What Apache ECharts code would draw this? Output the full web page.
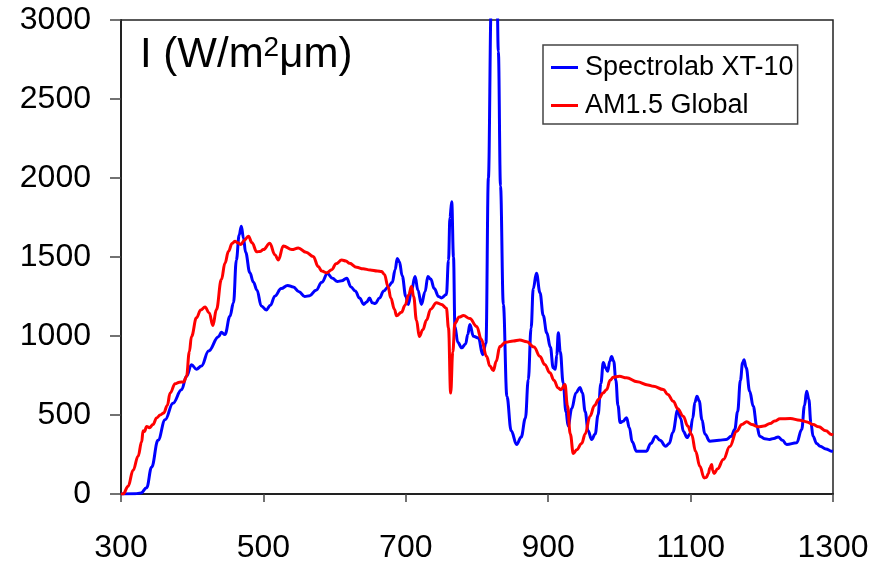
<!DOCTYPE html>
<html>
<head>
<meta charset="utf-8">
<script src="https://cdn.jsdelivr.net/npm/echarts@6/dist/echarts.min.js"></script>
<style>
html,body{margin:0;padding:0;background:#fff;}
#chart{width:884px;height:564px;}
</style>
</head>
<body>
<div id="chart"></div>
<script>
// Wavelength (nm) and irradiance (W/m^2 um)
const xtWavelength = [300,320,328,336,343,352,362,373,385,392,399,406,413,423,437,441,446,453,458,462,466,469,472,475,481,486,491,497,504,510,516,525,534,542,550,558,565,574,582,590,597,604,610,617,623,629,635,641,645,649,653,657,663,669,675,681,685,688,691,695,700,703.5,708,713,717,722,727,731,735,740,746,750,757,760,762,764.5,767,769,773,778.5,784,787,790,795,802,808,812.6,816,820,823,827,830,833,837,842,848,855.7,862,868,872,876,879,883.5,888.5,893,898,903,907,910,912,914.2,917,921,925,928,933,939,944.6,948,952,956,961,966,970,974,977.4,980.5,983.5,986.5,989,992,995,998,1001,1005,1010,1014,1018,1024,1038,1044,1051,1057,1065,1070,1075,1082,1086,1090,1095,1099,1103,1106,1109,1112,1116,1120,1127,1140,1150,1157,1162,1166,1170,1173,1175,1178,1183,1188,1193,1197,1204,1211,1217,1223,1229,1235,1249,1256,1260,1263,1266,1269,1272,1277,1282,1290,1298,1300];
const xtValues = [0,2,6,40,170,340,470,575,660,745,818,790,810,905,995,1024,1009,1125,1210,1480,1640,1695,1620,1530,1400,1340,1290,1190,1165,1195,1252,1300,1320,1310,1280,1250,1255,1290,1340,1395,1365,1345,1350,1365,1310,1285,1240,1200,1215,1240,1210,1205,1240,1285,1310,1340,1420,1490,1470,1380,1250,1200,1290,1376,1290,1200,1280,1376,1360,1300,1250,1241,1262,1480,1750,1849,1500,1060,960,925,950,1010,1072,998,988,882,956,2000,3100,3600,3600,2800,1950,1200,618,400,313,360,480,723,1050,1300,1397,1273,1130,1020,930,799,790,880,1020,900,704,520,430,540,640,674,640,520,400,345,380,500,700,832,800,777,840,870,840,720,560,452,460,483,420,330,271,271,320,366,340,302,320,390,534,480,395,357,380,480,580,619,590,470,380,334,340,345,365,408,520,720,830,850,800,650,555,430,366,350,345,352,361,340,313,324,408,560,650,600,450,366,320,302,285,271,270];

const amWavelength = [300,303,310,317,324,329,331,333,336,340,345,350,355,360,365,369,376,382,388,392,396,399,406,412,418,424,429,434,441,446,451,456,460,464,468.5,473,479,484,490.6,495,500,509,516,521,528,540,549,560,570,577,582,589,596,602,610,616,621,631,640,650,660,666,670,675,679,684,687,694,699,704,708,711,715,719,724,729,735,743,750,757,760,763,766,769,775,781,790,799.6,806,813.6,818,823,827,832,840,851,860,870,880,888.5,895,902.5,908,914,918,923.6,927,931,935.3,940,947,952,958.7,965,971,977,982,987,991.4,1000,1010,1025,1040,1047.6,1061.7,1068,1075.7,1082,1089.7,1096,1101.5,1107,1113,1119,1122,1125,1127,1129.6,1131,1133,1138,1146,1155,1164.7,1172,1178.8,1186,1195,1203,1211.5,1218,1225.6,1240,1253.6,1262,1272,1280,1290,1298,1300];
const amValues = [0,0,49,150,239,330,400,395,428,420,440,481,500,513,560,639,698,708,709,744,900,997,1115,1165,1183,1146,1066,1167,1357,1460,1536,1585,1600,1590,1579,1605,1632,1590,1533,1535,1547,1587,1515,1481,1570,1547,1557,1530,1503,1440,1411,1400,1420,1457,1481,1475,1460,1435,1425,1418,1412,1408,1390,1313,1240,1170,1128,1150,1195,1260,1313,1250,1100,997,1040,1100,1170,1211,1200,1176,1050,639,900,1081,1120,1129,1110,1060,980,870,810,782,840,933,960,969,975,963,930,870,820,767,720,671,660,693,560,380,256,280,320,380,492,560,600,640,660,720,739,745,735,710,690,682,661,630,587,540,492,430,376,270,176,102,105,130,165,187,150,130,160,218,300,397,440,457,440,425,430,446,462,476,478,467,458,440,425,400,376,372];

const seriesNames = ['Spectrolab XT-10', 'AM1.5 Global'];
const xTicks = {min: 300, max: 1300, interval: 200};
const yTicks = {min: 0, max: 3000, interval: 500};

const pair = (xs, ys) => xs.map((x, i) => [x, ys[i]]);
const FONT = '"Liberation Sans", Arial, sans-serif';

const chart = echarts.init(document.getElementById('chart'));
chart.setOption({
  animation: false,
  backgroundColor: '#ffffff',
  grid: {
    left: 121, right: 51, top: 20, bottom: 70,
    show: true, borderColor: '#222', borderWidth: 1.5, backgroundColor: 'transparent'
  },
  title: {
    text: '{a|I (W/m}{b|2}{a|μm)}',
    left: 140, top: 34, padding: 0,
    textStyle: {
      fontWeight: 'normal',
      rich: {
        a: {fontFamily: FONT, fontSize: 42, lineHeight: 42, color: '#000', fontWeight: 'normal'},
        b: {fontFamily: FONT, fontSize: 28, lineHeight: 26, color: '#000', fontWeight: 'normal', verticalAlign: 'top'}
      }
    }
  },
  legend: {
    orient: 'vertical',
    left: 543, top: 45,
    padding: [9, 4, 5, 8],
    itemGap: 11,
    itemWidth: 27, itemHeight: 3,
    icon: 'rect',
    borderColor: '#444', borderWidth: 1.5,
    backgroundColor: '#fff',
    textStyle: {fontFamily: FONT, fontSize: 27, color: '#000', padding: [0, 0, 0, 2]},
    data: seriesNames
  },
  xAxis: {
    type: 'value',
    min: xTicks.min, max: xTicks.max, interval: xTicks.interval,
    axisLine: {show: true, onZero: false, lineStyle: {color: '#222', width: 2}},
    axisTick: {show: true, length: 8, lineStyle: {color: '#444', width: 1.5}},
    axisLabel: {fontFamily: FONT, fontSize: 32, color: '#000', margin: 38, formatter: v => String(v)},
    splitLine: {show: false}
  },
  yAxis: {
    type: 'value',
    min: yTicks.min, max: yTicks.max, interval: yTicks.interval,
    axisLine: {show: true, lineStyle: {color: '#222', width: 2}},
    axisTick: {show: true, length: 11, lineStyle: {color: '#444', width: 1.5}},
    axisLabel: {fontFamily: FONT, fontSize: 32, color: '#000', margin: 30, formatter: v => String(v)},
    splitLine: {show: false}
  },
  series: [
    {
      name: seriesNames[0], type: 'line',
      data: pair(xtWavelength, xtValues),
      showSymbol: false, symbol: 'none',
      smooth: 0.4, smoothMonotone: 'x',
      clip: true,
      lineStyle: {color: '#0000FF', width: 3},
      itemStyle: {color: '#0000FF'}
    },
    {
      name: seriesNames[1], type: 'line',
      data: pair(amWavelength, amValues),
      showSymbol: false, symbol: 'none',
      smooth: 0.4, smoothMonotone: 'x',
      clip: true,
      lineStyle: {color: '#FF0000', width: 3},
      itemStyle: {color: '#FF0000'}
    }
  ]
});
</script>
</body>
</html>
